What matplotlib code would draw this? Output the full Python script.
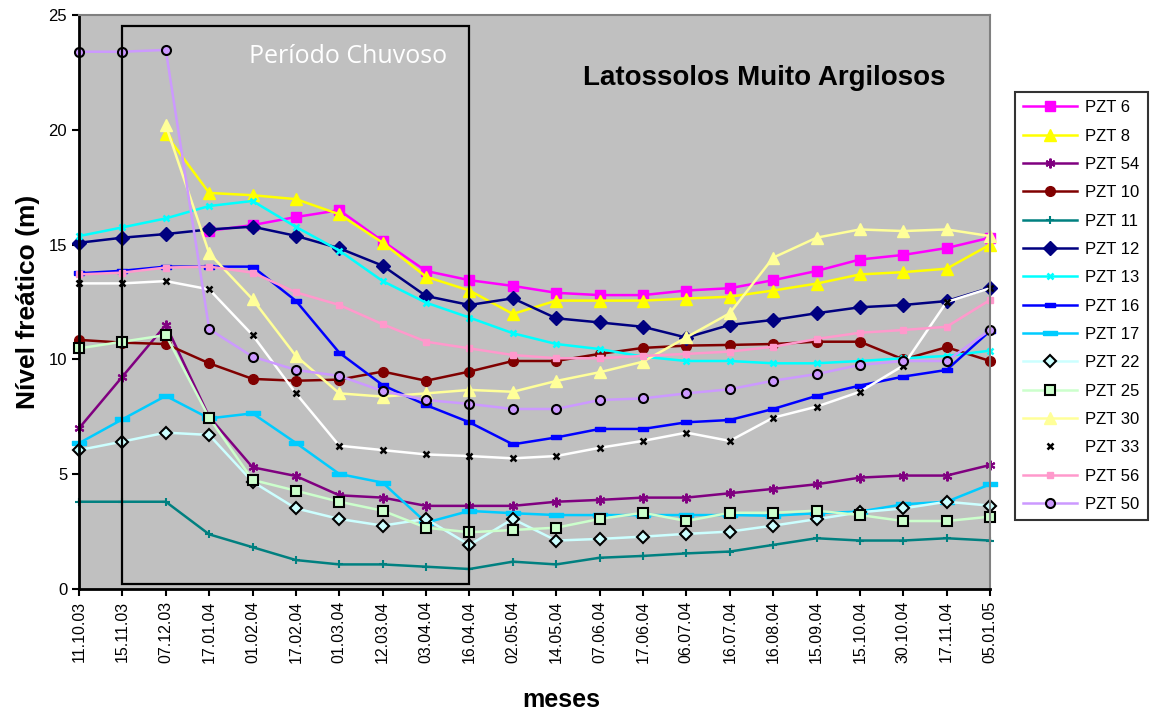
import matplotlib
matplotlib.use("Agg")
import matplotlib.pyplot as plt
from matplotlib.patches import Rectangle

plt.rcParams["font.family"] = ["Liberation Sans", "DejaVu Sans"]

datas = ["11.10.03", "15.11.03", "07.12.03", "17.01.04", "01.02.04", "17.02.04",
         "01.03.04", "12.03.04", "03.04.04", "16.04.04", "02.05.04", "14.05.04",
         "07.06.04", "17.06.04", "06.07.04", "16.07.04", "16.08.04", "15.09.04",
         "15.10.04", "30.10.04", "17.11.04", "05.01.05"]

pzt6 = [None, None, None, 15.6, 15.85, 16.2, 16.5, 15.15, 13.85, 13.45, 13.2, 12.9,
        12.8, 12.8, 13.0, 13.1, 13.45, 13.85, 14.35, 14.55, 14.85, 15.3]
pzt8 = [None, None, 19.8, 17.25, 17.15, 16.98, 16.32, 15.08, 13.6, 13.0, 11.98, 12.56,
        12.56, 12.56, 12.65, 12.73, 13.0, 13.3, 13.7, 13.8, 13.95, 15.0]
pzt54 = [7.0, 9.25, 11.5, 7.5, 5.3, 4.92, 4.08, 3.98, 3.62, 3.62, 3.62, 3.8,
         3.88, 3.98, 3.98, 4.17, 4.36, 4.56, 4.85, 4.94, 4.94, 5.4]
pzt10 = [10.85, 10.73, 10.67, 9.83, 9.15, 9.07, 9.12, 9.47, 9.07, 9.47, 9.93, 9.93,
         10.24, 10.5, 10.6, 10.63, 10.67, 10.77, 10.77, 10.0, 10.53, 9.93]
pzt11 = [3.8, 3.8, 3.8, 2.38, 1.82, 1.26, 1.07, 1.07, 0.97, 0.87, 1.19, 1.07,
         1.36, 1.44, 1.55, 1.63, 1.92, 2.21, 2.11, 2.11, 2.21, 2.11]
pzt12 = [15.08, 15.3, 15.46, 15.66, 15.78, 15.38, 14.84, 14.08, 12.76, 12.37, 12.66, 11.79,
         11.61, 11.42, 10.95, 11.5, 11.72, 12.01, 12.27, 12.37, 12.54, 13.12]
pzt13 = [15.37, 15.75, 16.14, 16.68, 16.9, 15.77, 14.74, 13.41, 12.47, 11.82, 11.14, 10.67,
         10.45, 10.12, 9.93, 9.93, 9.83, 9.83, 9.93, 10.05, 10.15, 10.38]
pzt16 = [13.75, 13.86, 14.04, 14.04, 14.04, 12.55, 10.29, 8.88, 8.01, 7.26, 6.3, 6.6,
         6.97, 6.97, 7.26, 7.36, 7.84, 8.41, 8.86, 9.25, 9.54, 11.24]
pzt17 = [6.35, 7.39, 8.41, 7.43, 7.65, 6.36, 5.01, 4.63, 2.89, 3.4, 3.3, 3.22,
         3.22, 3.22, 3.22, 3.22, 3.19, 3.3, 3.37, 3.69, 3.8, 4.56]
pzt22 = [6.05, 6.42, 6.81, 6.71, 4.67, 3.51, 3.05, 2.76, 3.05, 1.92, 3.05, 2.11,
         2.18, 2.28, 2.4, 2.5, 2.76, 3.04, 3.34, 3.51, 3.8, 3.63]
pzt25 = [10.48, 10.77, 11.06, 7.46, 4.75, 4.28, 3.8, 3.41, 2.67, 2.47, 2.57, 2.67,
         3.05, 3.32, 2.96, 3.32, 3.32, 3.41, 3.22, 2.96, 2.96, 3.15]
pzt30 = [None, None, 20.2, 14.62, 12.62, 10.15, 8.52, 8.38, 8.52, 8.67, 8.59, 9.06,
         9.44, 9.9, 10.96, 12.01, 14.43, 15.3, 15.66, 15.59, 15.66, 15.37]
pzt33 = [13.31, 13.31, 13.41, 13.05, 11.06, 8.52, 6.24, 6.05, 5.86, 5.79, 5.69, 5.79,
         6.15, 6.45, 6.81, 6.45, 7.46, 7.94, 8.59, 9.73, 12.5, 13.1]
pzt56 = [13.7, 13.78, 14.0, 14.04, 13.78, 12.92, 12.37, 11.53, 10.77, 10.48, 10.19, 10.05,
         10.05, 10.15, 10.24, 10.34, 10.55, 10.89, 11.16, 11.28, 11.42, 12.59]
pzt50 = [23.4, 23.4, 23.48, 11.32, 10.12, 9.54, 9.28, 8.62, 8.23, 8.06, 7.84, 7.84,
         8.23, 8.3, 8.52, 8.7, 9.07, 9.36, 9.76, 9.93, 9.93, 11.28]

# marcador "traco" do Excel (retangulo achatado)
dash = [(-1, -0.35), (1, -0.35), (1, 0.35), (-1, 0.35), (-1, -0.35)]
star = (6, 2, 0)

series = [
    ("PZT 6", pzt6, dict(color="#ff00ff", marker="s", ms=7)),
    ("PZT 8", pzt8, dict(color="#ffff00", marker="^", ms=9)),
    ("PZT 54", pzt54, dict(color="#800080", marker=star, ms=7, mew=1.5)),
    ("PZT 10", pzt10, dict(color="#800000", marker="o", ms=7)),
    ("PZT 11", pzt11, dict(color="#008080", marker="+", ms=6, mew=1.5)),
    ("PZT 12", pzt12, dict(color="#000080", marker="D", ms=7)),
    ("PZT 13", pzt13, dict(color="#00ffff", marker="x", ms=5, mew=1.8)),
    ("PZT 16", pzt16, dict(color="#0000ff", marker=dash, ms=7)),
    ("PZT 17", pzt17, dict(color="#00ccff", marker=dash, ms=10)),
    ("PZT 22", pzt22, dict(color="#ccffff", marker="D", ms=6, mfc="#ccffff", mec="black", mew=1.5)),
    ("PZT 25", pzt25, dict(color="#ccffcc", marker="s", ms=6.5, mfc="#ccffcc", mec="black", mew=1.5)),
    ("PZT 30", pzt30, dict(color="#ffff99", marker="^", ms=9)),
    ("PZT 33", pzt33, dict(color="white", marker="x", ms=5, mec="black", mew=1.8)),
    ("PZT 56", pzt56, dict(color="#ff99cc", marker="s", ms=5)),
    ("PZT 50", pzt50, dict(color="#cc99ff", marker="o", ms=6.5, mfc="#cc99ff", mec="black", mew=1.5)),
]

fig = plt.figure(figsize=(11.57, 7.21), dpi=100)
ax = fig.add_axes([0.0683, 0.1831, 0.7874, 0.7961])
ax.set_facecolor("#c0c0c0")

x = list(range(len(datas)))
for nome, vals, st in series:
    xs = [i for i, v in zip(x, vals) if v is not None]
    ys = [v for v in vals if v is not None]
    ax.plot(xs, ys, lw=1.8, label=nome, clip_on=False, **st)

# periodo chuvoso
ax.add_patch(Rectangle((1, 0.2), 8, 24.3, fill=False, ec="black", lw=1.6, zorder=5))
ax.text(6.2, 23.2, "Período Chuvoso", color="white", fontsize=18,
        family=["Open Sans", "DejaVu Sans"], ha="center", va="center")
ax.text(15.8, 22.25, "Latossolos Muito Argilosos", fontsize=20, fontweight="bold",
        ha="center", va="center")

ax.set_xlim(0, 21)
ax.set_ylim(0, 25)
ax.set_xticks(x)
ax.set_xticklabels(datas, rotation=90, fontsize=11.5)
ax.set_yticks(range(0, 26, 5))
ax.tick_params(axis="y", labelsize=12, length=5, width=1.5)
ax.tick_params(axis="x", length=5, width=1.5)

for s in ("left", "bottom"):
    ax.spines[s].set_linewidth(2)
    ax.spines[s].set_color("black")
for s in ("top", "right"):
    ax.spines[s].set_linewidth(1.5)
    ax.spines[s].set_color("#808080")

ax.set_ylabel("Nível freático (m)", fontsize=19, fontweight="bold", labelpad=6)
xl = ax.set_xlabel("meses", fontsize=18, fontweight="bold")
xl.set_verticalalignment("center")
ax.xaxis.set_label_coords(0.529, -0.193)

leg = fig.legend(loc="upper left", bbox_to_anchor=(0.8773, 0.8724), fontsize=12,
                 frameon=True, fancybox=False, handlelength=3.2, labelspacing=0.8,
                 borderpad=0.5, handletextpad=0.5, borderaxespad=0)
leg.get_frame().set_edgecolor("black")
leg.get_frame().set_linewidth(1.5)

fig.savefig("out.png", dpi=100)
